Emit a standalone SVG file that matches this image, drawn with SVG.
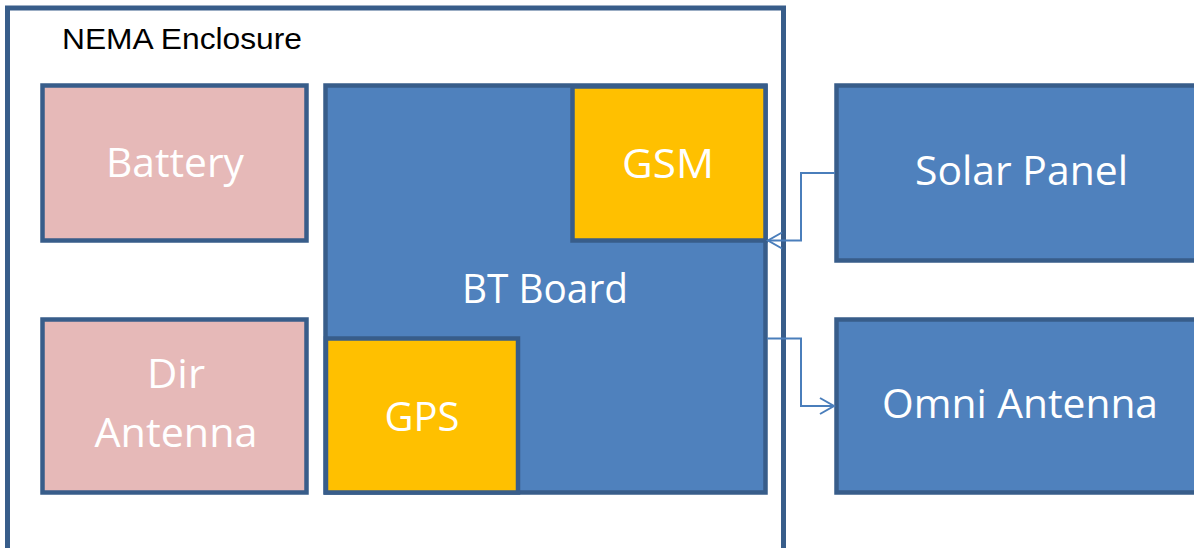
<svg xmlns="http://www.w3.org/2000/svg" width="1194" height="548" viewBox="0 0 1194 548">
  <style>
    .box { stroke: #385d8a; stroke-width: 4.5; }
    .pink { fill: #e6b9b8; }
    .blue { fill: #4f81bd; }
    .gold { fill: #ffc000; }
    .lbl { font-family: "Open Sans", "Noto Sans", sans-serif; font-size: 40px; fill: #ffffff; text-anchor: middle; }
    .wire { fill: none; stroke: #4a7ebb; stroke-width: 2; }
  </style>
  <defs>
    <marker id="open-arrow" markerUnits="userSpaceOnUse" markerWidth="20" markerHeight="20" viewBox="0 0 20 20" refX="15" refY="10" orient="auto">
      <path d="M1,2 L15,10 L1,18" fill="none" stroke="#4a7ebb" stroke-width="2"/>
    </marker>
  </defs>

  <rect width="1194" height="548" fill="#ffffff"/>

  <g id="enclosure">
    <rect x="7.5" y="8" width="776" height="580" fill="none" stroke="#385d8a" stroke-width="5"/>
    <text x="62" y="49" font-family="Liberation Sans, Arial, sans-serif" font-size="30" fill="#000000" textLength="240" lengthAdjust="spacingAndGlyphs">NEMA Enclosure</text>
  </g>

  <g id="battery">
    <rect class="box pink" x="42.5" y="85.5" width="264" height="155"/>
    <text class="lbl" x="175" y="177" textLength="138" lengthAdjust="spacingAndGlyphs">Battery</text>
  </g>

  <g id="dir-antenna">
    <rect class="box pink" x="42.5" y="319.5" width="264" height="173"/>
    <text class="lbl" x="176" y="388" textLength="58" lengthAdjust="spacingAndGlyphs">Dir</text>
    <text class="lbl" x="176" y="446.5" textLength="163" lengthAdjust="spacingAndGlyphs">Antenna</text>
  </g>

  <g id="bt-board">
    <rect class="box blue" x="325.5" y="85.5" width="440" height="407"/>
    <text class="lbl" x="545" y="303" textLength="166" lengthAdjust="spacingAndGlyphs">BT Board</text>
  </g>

  <g id="gsm">
    <rect class="box gold" x="572.5" y="86.5" width="193" height="154"/>
    <text class="lbl" x="668" y="178" textLength="92" lengthAdjust="spacingAndGlyphs">GSM</text>
  </g>

  <g id="gps">
    <rect class="box gold" x="326" y="338.5" width="192" height="154"/>
    <text class="lbl" x="422" y="431" textLength="75" lengthAdjust="spacingAndGlyphs">GPS</text>
  </g>

  <g id="solar-panel">
    <rect class="box blue" x="836.5" y="85.5" width="380" height="175"/>
    <text class="lbl" x="1021.5" y="185" textLength="213" lengthAdjust="spacingAndGlyphs">Solar Panel</text>
  </g>

  <g id="omni-antenna">
    <rect class="box blue" x="836.5" y="319.5" width="380" height="173"/>
    <text class="lbl" x="1020" y="418" textLength="276" lengthAdjust="spacingAndGlyphs">Omni Antenna</text>
  </g>

  <g id="connectors">
    <path class="wire" d="M835,173 H801 V240.5 H768" marker-end="url(#open-arrow)"/>
    <path class="wire" d="M767,338.5 H801 V406 H834" marker-end="url(#open-arrow)"/>
  </g>
</svg>
